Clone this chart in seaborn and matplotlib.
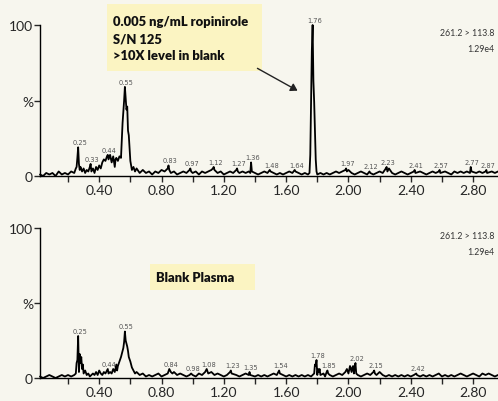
import matplotlib

matplotlib.use("Agg")
import matplotlib.pyplot as plt
import numpy as np
import pandas as pd
import seaborn as sns
from matplotlib.ticker import MultipleLocator


BACKGROUND = "#f7f6ee"
NOTE_FILL = "#fbf4c2"
CHANNEL_LABEL = "261.2 > 113.8"
INTENSITY_LABEL = "1.29e4"

# (retention time, % of max)
SAMPLE_TRACE = [
    (0.02, 1), (0.04, 0), (0.06, 2), (0.08, 1), (0.10, 2), (0.12, 0), (0.14, 3), (0.16, 1),
    (0.18, 2), (0.20, 1), (0.22, 3), (0.24, 2), (0.25, 5), (0.255, 6), (0.26, 12), (0.265, 19),
    (0.27, 8), (0.275, 4), (0.28, 6), (0.29, 3), (0.30, 5), (0.31, 2), (0.32, 4), (0.33, 3),
    (0.34, 6), (0.345, 8), (0.35, 3), (0.36, 5), (0.37, 2), (0.38, 6), (0.39, 4), (0.40, 7),
    (0.41, 5), (0.42, 9), (0.43, 11), (0.44, 10), (0.45, 13), (0.455, 14), (0.46, 11), (0.47, 14),
    (0.48, 9), (0.49, 13), (0.50, 6), (0.505, 11), (0.51, 12), (0.52, 10), (0.53, 13), (0.54, 12),
    (0.55, 35), (0.56, 50), (0.565, 59), (0.57, 52), (0.575, 44), (0.58, 46), (0.585, 30), (0.59, 27),
    (0.60, 10), (0.61, 4), (0.62, 6), (0.63, 3), (0.64, 5), (0.66, 2), (0.68, 4), (0.70, 2),
    (0.72, 3), (0.74, 1), (0.76, 3), (0.78, 2), (0.80, 4), (0.82, 3), (0.84, 5), (0.845, 7),
    (0.85, 4), (0.86, 2), (0.88, 3), (0.90, 1), (0.92, 2), (0.94, 3), (0.96, 2), (0.98, 4),
    (0.985, 5), (0.99, 3), (1.00, 2), (1.02, 3), (1.04, 1), (1.06, 3), (1.08, 2), (1.10, 3),
    (1.12, 4), (1.13, 5), (1.135, 6), (1.14, 4), (1.16, 2), (1.18, 3), (1.20, 1), (1.22, 2),
    (1.24, 3), (1.26, 2), (1.28, 4), (1.285, 5), (1.29, 3), (1.30, 2), (1.32, 3), (1.34, 2),
    (1.36, 3), (1.37, 2), (1.375, 9), (1.38, 3), (1.40, 2), (1.42, 1), (1.44, 2), (1.46, 3),
    (1.48, 2), (1.495, 4), (1.50, 3), (1.52, 2), (1.54, 1), (1.56, 2), (1.58, 1), (1.60, 2),
    (1.62, 3), (1.64, 2), (1.655, 4), (1.66, 3), (1.68, 2), (1.70, 1), (1.72, 2), (1.74, 1),
    (1.75, 2), (1.755, 14), (1.76, 49), (1.765, 83), (1.77, 100), (1.775, 63), (1.78, 49), (1.785, 30),
    (1.79, 11), (1.795, 3), (1.80, 1), (1.82, 2), (1.84, 1), (1.86, 2), (1.88, 1), (1.90, 2),
    (1.92, 3), (1.94, 2), (1.96, 3), (1.98, 4), (1.985, 5), (1.99, 3), (2.00, 4), (2.02, 2),
    (2.04, 1), (2.06, 2), (2.08, 3), (2.10, 2), (2.12, 1), (2.135, 3), (2.14, 2), (2.16, 1),
    (2.18, 2), (2.20, 3), (2.22, 2), (2.24, 5), (2.245, 6), (2.25, 3), (2.26, 5), (2.28, 2),
    (2.30, 1), (2.32, 2), (2.34, 3), (2.36, 2), (2.38, 1), (2.40, 2), (2.42, 3), (2.425, 4),
    (2.43, 2), (2.46, 3), (2.48, 2), (2.50, 1), (2.52, 2), (2.54, 3), (2.56, 2), (2.58, 3),
    (2.585, 4), (2.59, 2), (2.62, 3), (2.64, 2), (2.66, 1), (2.68, 3), (2.70, 2), (2.72, 3),
    (2.74, 2), (2.76, 3), (2.78, 2), (2.785, 6), (2.79, 3), (2.82, 2), (2.84, 3), (2.86, 2),
    (2.88, 3), (2.885, 4), (2.89, 2), (2.92, 3), (2.94, 2), (2.96, 3),
]

# (retention time, % of max)
BLANK_TRACE = [
    (0.02, 1), (0.04, 0), (0.06, 1), (0.08, 2), (0.10, 1), (0.12, 0), (0.14, 1), (0.16, 2),
    (0.18, 1), (0.20, 2), (0.22, 1), (0.24, 2), (0.25, 3), (0.255, 10), (0.26, 12), (0.265, 28),
    (0.27, 4), (0.275, 16), (0.28, 10), (0.285, 14), (0.29, 6), (0.295, 9), (0.30, 3), (0.31, 5),
    (0.32, 2), (0.33, 3), (0.34, 1), (0.35, 2), (0.36, 3), (0.37, 2), (0.38, 4), (0.39, 2),
    (0.40, 5), (0.41, 3), (0.42, 2), (0.43, 4), (0.44, 3), (0.45, 5), (0.455, 6), (0.46, 3),
    (0.47, 4), (0.48, 3), (0.49, 6), (0.50, 4), (0.51, 9), (0.515, 5), (0.52, 8), (0.53, 11),
    (0.54, 14), (0.55, 18), (0.555, 20), (0.56, 24), (0.565, 31), (0.57, 25), (0.575, 23), (0.58, 21),
    (0.585, 18), (0.59, 14), (0.60, 11), (0.61, 7), (0.62, 5), (0.63, 3), (0.64, 4), (0.66, 2),
    (0.68, 3), (0.70, 1), (0.72, 2), (0.74, 1), (0.76, 2), (0.78, 3), (0.80, 1), (0.82, 2),
    (0.84, 3), (0.85, 6), (0.855, 5), (0.86, 4), (0.87, 3), (0.88, 4), (0.90, 2), (0.92, 3),
    (0.94, 2), (0.96, 1), (0.98, 2), (0.99, 3), (1.00, 2), (1.02, 1), (1.04, 3), (1.06, 2),
    (1.08, 4), (1.09, 6), (1.10, 3), (1.12, 4), (1.14, 2), (1.16, 3), (1.18, 2), (1.20, 1),
    (1.22, 2), (1.24, 4), (1.245, 5), (1.25, 3), (1.28, 2), (1.30, 1), (1.32, 2), (1.34, 3),
    (1.36, 2), (1.365, 4), (1.37, 2), (1.40, 1), (1.42, 2), (1.44, 1), (1.46, 2), (1.48, 1),
    (1.50, 2), (1.52, 3), (1.54, 2), (1.555, 5), (1.56, 3), (1.58, 2), (1.60, 1), (1.62, 2),
    (1.64, 1), (1.66, 2), (1.68, 1), (1.70, 2), (1.72, 1), (1.74, 2), (1.76, 1), (1.78, 3),
    (1.785, 9), (1.79, 8), (1.795, 12), (1.80, 2), (1.805, 6), (1.81, 4), (1.815, 6), (1.82, 2),
    (1.84, 3), (1.85, 1), (1.86, 4), (1.865, 5), (1.87, 3), (1.88, 2), (1.90, 1), (1.92, 2),
    (1.94, 3), (1.96, 2), (1.98, 4), (1.99, 6), (2.00, 3), (2.01, 8), (2.02, 4), (2.025, 7),
    (2.03, 8), (2.035, 3), (2.04, 7), (2.045, 10), (2.05, 3), (2.06, 2), (2.08, 1), (2.10, 2),
    (2.12, 3), (2.14, 2), (2.16, 4), (2.165, 5), (2.17, 3), (2.18, 2), (2.20, 4), (2.22, 2),
    (2.24, 1), (2.26, 2), (2.28, 1), (2.30, 2), (2.32, 1), (2.34, 2), (2.36, 1), (2.38, 2),
    (2.40, 1), (2.42, 2), (2.435, 3), (2.44, 2), (2.46, 1), (2.48, 2), (2.50, 1), (2.52, 2),
    (2.54, 1), (2.56, 2), (2.58, 3), (2.60, 1), (2.62, 2), (2.64, 1), (2.66, 2), (2.68, 1),
    (2.70, 2), (2.72, 3), (2.74, 2), (2.76, 1), (2.78, 2), (2.80, 3), (2.82, 2), (2.84, 1),
    (2.86, 3), (2.88, 2), (2.90, 3), (2.92, 2), (2.94, 1), (2.96, 2),
]

SAMPLE_PEAKS = ["0.25", "0.33", "0.44", "0.55", "0.83", "0.97", "1.12", "1.27", "1.36", "1.48",
                "1.64", "1.76", "1.97", "2.12", "2.23", "2.41", "2.57", "2.77", "2.87"]
BLANK_PEAKS = ["0.25", "0.44", "0.55", "0.84", "0.98", "1.08", "1.23", "1.35", "1.54", "1.78",
               "1.85", "2.02", "2.15", "2.42"]

SAMPLE_NOTE = "0.005 ng/mL ropinirole\nS/N 125\n>10X level in blank"
BLANK_NOTE = "Blank Plasma"


def draw_trace(ax, trace, peaks):
    df = pd.DataFrame(trace, columns=["time", "pct"])
    sns.lineplot(data=df, x="time", y="pct", ax=ax, color="black", linewidth=1.3,
                 estimator=None, sort=True, clip_on=False)
    for label in peaks:
        rt = float(label)
        window = df[(df["time"] >= rt - 0.005) & (df["time"] <= rt + 0.035)]
        top = window.loc[window["pct"].idxmax()]
        ax.text(top["time"] + 0.01, top["pct"] + 1.5, label, fontsize=4.8, color="#555555",
                ha="center", va="bottom", family=["DejaVu Sans"])

    ax.set_xlim(0.02, 2.96)
    ax.set_ylim(0, 100)
    ax.xaxis.set_minor_locator(MultipleLocator(0.2))
    ax.set_xticks(np.arange(0.4, 2.81, 0.4))
    ax.set_xticklabels([f"{v:.2f}" for v in np.arange(0.4, 2.81, 0.4)])
    ax.set_yticks([0, 50, 100])
    ax.set_yticklabels(["0", "%", "100"])
    ax.tick_params(axis="x", which="both", length=4, width=1, labelsize=10, pad=2)
    ax.tick_params(axis="y", length=4, width=1, labelsize=10, pad=1)
    ax.set_xlabel("")
    ax.set_ylabel("")
    ax.set_facecolor(BACKGROUND)
    for side in ["top", "right"]:
        ax.spines[side].set_visible(False)
    for side in ["left", "bottom"]:
        ax.spines[side].set_color("black")
        ax.spines[side].set_linewidth(1)
    ax.text(0.993, 0.95, CHANNEL_LABEL, transform=ax.transAxes, ha="right", va="center",
            fontsize=6.3, color="#333333")
    ax.text(0.993, 0.845, INTENSITY_LABEL, transform=ax.transAxes, ha="right", va="center",
            fontsize=6.3, color="#333333")


sns.set_theme(style="ticks")
plt.rcParams["font.family"] = ["Lato", "DejaVu Sans"]

fig = plt.figure(figsize=(4.98, 4.02), dpi=100, facecolor=BACKGROUND)
ax_top = fig.add_axes([0.0803, 0.5597, 0.9197, 0.3756])
ax_bottom = fig.add_axes([0.0803, 0.0572, 0.9197, 0.3731])

draw_trace(ax_top, SAMPLE_TRACE, SAMPLE_PEAKS)
draw_trace(ax_bottom, BLANK_TRACE, BLANK_PEAKS)

fig.patches.append(plt.Rectangle((107 / 498, 1 - 72 / 402), 155 / 498, 67 / 402,
                                 transform=fig.transFigure, facecolor=NOTE_FILL,
                                 edgecolor="none", zorder=0))
fig.text(113 / 498, 1 - 39 / 402, SAMPLE_NOTE, fontsize=9.4, fontweight="heavy",
         color="#111111", ha="left", va="center", linespacing=1.5)
fig.patches.append(plt.Rectangle((150 / 498, 1 - 291 / 402), 105 / 498, 26 / 402,
                                 transform=fig.transFigure, facecolor=NOTE_FILL,
                                 edgecolor="none", zorder=0))
fig.text(156 / 498, 1 - 278 / 402, BLANK_NOTE, fontsize=9.4, fontweight="heavy",
         color="#111111", ha="left", va="center")

fig.add_artist(matplotlib.patches.FancyArrowPatch(
    (255 / 498, 1 - 68 / 402), (300 / 498, 1 - 93 / 402), transform=fig.transFigure,
    arrowstyle="-|>,head_length=4,head_width=2.5", color="#222222", linewidth=1))

fig.savefig("out.png", dpi=100, facecolor=BACKGROUND)
